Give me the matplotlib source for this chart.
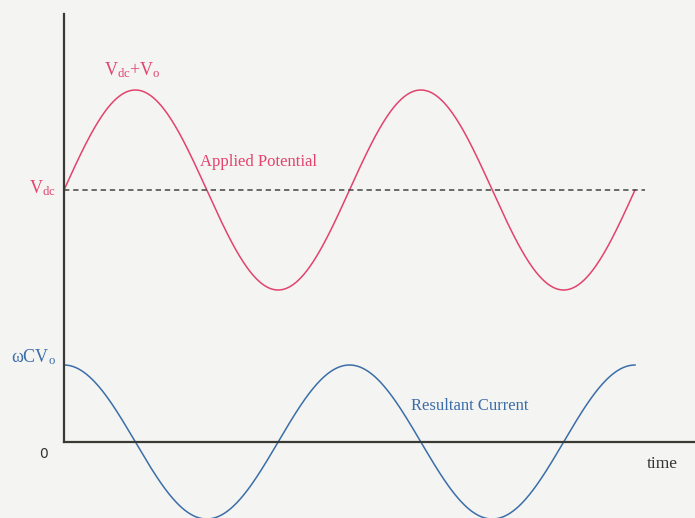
import numpy as np
import matplotlib
matplotlib.use("Agg")
from matplotlib import pyplot as plt

# two periods of the ac perturbation
periods = 2.0
v_dc = 2.52      # dc level of the applied potential
v_amp = 1.0      # amplitude V_o
i_amp = 0.77     # amplitude of current, omega*C*V_o

potential_label = "Applied Potential"
current_label = "Resultant Current"

pink = "#e2436d"
blue = "#3b6ea8"
axis_col = "#3a3a34"
bg = "#f4f4f2"

plt.rcParams["mathtext.fontset"] = "custom"
plt.rcParams["mathtext.rm"] = "Liberation Serif"
plt.rcParams["mathtext.it"] = "Liberation Serif:italic"
serif = "Liberation Serif"

t = np.linspace(0, periods, 600)
potential = v_dc + v_amp * np.sin(2 * np.pi * t)
current = i_amp * np.cos(2 * np.pi * t)

fig = plt.figure(figsize=(6.95, 5.18), dpi=100, facecolor=bg)
# left spine at x=64px, bottom spine at y=442px, top of y axis at ~14px
ax = fig.add_axes([64 / 695, 76 / 518, 631 / 695, 428 / 518])
ax.set_facecolor(bg)
ax.set_xlim(0, 631 / 285.5)
ax.set_ylim(0, 4.28)

ax.plot(t, potential, color=pink, lw=1.1, clip_on=False)
ax.plot(t, current, color=blue, lw=1.1, clip_on=False)
ax.plot([0, 581 / 285.5], [v_dc, v_dc], color="#444444", lw=1.1,
        ls=(0, (3.5, 2.5)))

for s in ["top", "right"]:
    ax.spines[s].set_visible(False)
for s in ["left", "bottom"]:
    ax.spines[s].set_color(axis_col)
    ax.spines[s].set_linewidth(1.6)
ax.set_xticks([])
ax.set_yticks([])

ax.text(-0.03, v_dc + 0.02, r"V$_{\rm dc}$", color=pink, ha="right",
        va="center", fontsize=13, family=serif)
ax.text(0.24, v_dc + v_amp + 0.1, r"V$_{\rm dc}$+V$_{\rm o}$", color=pink,
        ha="center", va="bottom", fontsize=13, family=serif)
ax.text(0.475, 2.8, potential_label, color=pink, ha="left", va="center",
        fontsize=12, family=serif)
ax.text(-0.03, i_amp + 0.08, "\u03c9CV$_{\\rm o}$", color=blue, ha="right",
        va="center", fontsize=13, family=serif)
ax.text(1.215, 0.36, current_label, color=blue, ha="left", va="center",
        fontsize=12, family=serif)
ax.text(-0.055, -0.05, "0", color="#333333", ha="right", va="top",
        fontsize=10, family="DejaVu Sans")
ax.text(2.095, -0.22, "time", color="#333333", ha="center", va="center",
        fontsize=12.5, family=serif)

fig.savefig("out.png", dpi=100, facecolor=bg)
